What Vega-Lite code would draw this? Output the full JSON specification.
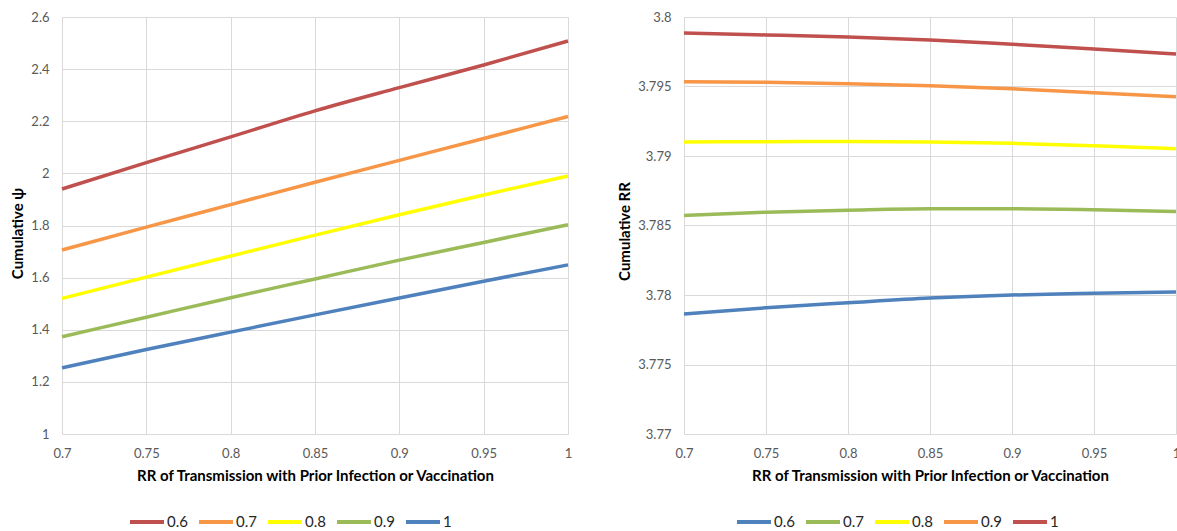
{
  "$schema": "https://vega.github.io/schema/vega-lite/v6.json",
  "background": "white",
  "padding": {"left": 10, "top": 11, "right": 0, "bottom": 0},
  "config": {
    "view": {"stroke": null},
    "font": "Lato",
    "axis": {
      "labelFont": "Lato", "labelFontSize": 13, "labelColor": "#595959", "labelFlush": false,
      "titleFont": "Lato", "titleFontSize": 15, "titleFontWeight": "bold", "titleColor": "#000000",
      "gridColor": "#d9d9d9", "gridWidth": 1, "ticks": false, "domain": false, "labelPadding": 13
    },
    "legend": {
      "labelFont": "Lato", "labelFontSize": 15, "labelColor": "#262626"
    }
  },
  "spacing": 116,
  "bounds": "flush",
  "resolve": {"scale": {"color": "independent"}, "legend": {"color": "independent"}},
  "hconcat": [
    {
      "width": 506, "height": 417,
      "data": {"values": [
        {"sL": "0.6", "x": 0.7, "y": 1.940}, {"sL": "0.6", "x": 0.75, "y": 2.041}, {"sL": "0.6", "x": 0.8, "y": 2.140}, {"sL": "0.6", "x": 0.85, "y": 2.240}, {"sL": "0.6", "x": 0.9, "y": 2.329}, {"sL": "0.6", "x": 0.95, "y": 2.416}, {"sL": "0.6", "x": 1.0, "y": 2.508},
        {"sL": "0.7", "x": 0.7, "y": 1.706}, {"sL": "0.7", "x": 0.75, "y": 1.794}, {"sL": "0.7", "x": 0.8, "y": 1.880}, {"sL": "0.7", "x": 0.85, "y": 1.966}, {"sL": "0.7", "x": 0.9, "y": 2.050}, {"sL": "0.7", "x": 0.95, "y": 2.134}, {"sL": "0.7", "x": 1.0, "y": 2.218},
        {"sL": "0.8", "x": 0.7, "y": 1.520}, {"sL": "0.8", "x": 0.75, "y": 1.602}, {"sL": "0.8", "x": 0.8, "y": 1.683}, {"sL": "0.8", "x": 0.85, "y": 1.763}, {"sL": "0.8", "x": 0.9, "y": 1.841}, {"sL": "0.8", "x": 0.95, "y": 1.917}, {"sL": "0.8", "x": 1.0, "y": 1.990},
        {"sL": "0.9", "x": 0.7, "y": 1.373}, {"sL": "0.9", "x": 0.75, "y": 1.448}, {"sL": "0.9", "x": 0.8, "y": 1.523}, {"sL": "0.9", "x": 0.85, "y": 1.595}, {"sL": "0.9", "x": 0.9, "y": 1.667}, {"sL": "0.9", "x": 0.95, "y": 1.735}, {"sL": "0.9", "x": 1.0, "y": 1.803},
        {"sL": "1", "x": 0.7, "y": 1.254}, {"sL": "1", "x": 0.75, "y": 1.324}, {"sL": "1", "x": 0.8, "y": 1.391}, {"sL": "1", "x": 0.85, "y": 1.457}, {"sL": "1", "x": 0.9, "y": 1.522}, {"sL": "1", "x": 0.95, "y": 1.586}, {"sL": "1", "x": 1.0, "y": 1.649}
      ]},
      "mark": {"type": "line", "strokeWidth": 3.5, "interpolate": "monotone"},
      "encoding": {
        "x": {"field": "x", "type": "quantitative",
          "scale": {"domain": [0.7, 1], "nice": false, "zero": false},
          "axis": {"values": [0.7, 0.75, 0.8, 0.85, 0.9, 0.95, 1], "format": "~g",
            "title": "RR of Transmission with Prior Infection or Vaccination", "titleY": 41, "titleBaseline": "middle"}},
        "y": {"field": "y", "type": "quantitative",
          "scale": {"domain": [1, 2.6], "nice": false, "zero": false},
          "axis": {"values": [1, 1.2, 1.4, 1.6, 1.8, 2, 2.2, 2.4, 2.6], "format": "~g",
            "title": "Cumulative ψ", "titleX": -45, "titleY": 216, "titleAngle": -90, "titleBaseline": "middle", "titleAlign": "center"}},
        "color": {"field": "sL", "type": "nominal",
          "scale": {"domain": ["0.6", "0.7", "0.8", "0.9", "1"], "range": ["#C0504D", "#F79646", "#FFFF00", "#9BBB59", "#4F81BD"]},
          "legend": {"title": null, "orient": "none", "direction": "horizontal", "legendX": 66, "legendY": 486,
            "symbolType": "stroke", "symbolSize": 1156, "symbolStrokeWidth": 4, "columnPadding": 3, "labelOffset": 1}}
      }
    },
    {
      "width": 492, "height": 417,
      "data": {"values": [
        {"sR": "0.6", "x": 0.7, "y": 3.77863}, {"sR": "0.6", "x": 0.75, "y": 3.77908}, {"sR": "0.6", "x": 0.8, "y": 3.77944}, {"sR": "0.6", "x": 0.85, "y": 3.77978}, {"sR": "0.6", "x": 0.9, "y": 3.78000}, {"sR": "0.6", "x": 0.95, "y": 3.78012}, {"sR": "0.6", "x": 1.0, "y": 3.78022},
        {"sR": "0.7", "x": 0.7, "y": 3.78572}, {"sR": "0.7", "x": 0.75, "y": 3.78596}, {"sR": "0.7", "x": 0.8, "y": 3.78610}, {"sR": "0.7", "x": 0.85, "y": 3.78620}, {"sR": "0.7", "x": 0.9, "y": 3.78620}, {"sR": "0.7", "x": 0.95, "y": 3.78613}, {"sR": "0.7", "x": 1.0, "y": 3.78601},
        {"sR": "0.8", "x": 0.7, "y": 3.79101}, {"sR": "0.8", "x": 0.75, "y": 3.79103}, {"sR": "0.8", "x": 0.8, "y": 3.79104}, {"sR": "0.8", "x": 0.85, "y": 3.79101}, {"sR": "0.8", "x": 0.9, "y": 3.79091}, {"sR": "0.8", "x": 0.95, "y": 3.79074}, {"sR": "0.8", "x": 1.0, "y": 3.79053},
        {"sR": "0.9", "x": 0.7, "y": 3.79535}, {"sR": "0.9", "x": 0.75, "y": 3.79530}, {"sR": "0.9", "x": 0.8, "y": 3.79520}, {"sR": "0.9", "x": 0.85, "y": 3.79505}, {"sR": "0.9", "x": 0.9, "y": 3.79484}, {"sR": "0.9", "x": 0.95, "y": 3.79455}, {"sR": "0.9", "x": 1.0, "y": 3.79427},
        {"sR": "1", "x": 0.7, "y": 3.79885}, {"sR": "1", "x": 0.75, "y": 3.79871}, {"sR": "1", "x": 0.8, "y": 3.79856}, {"sR": "1", "x": 0.85, "y": 3.79835}, {"sR": "1", "x": 0.9, "y": 3.79804}, {"sR": "1", "x": 0.95, "y": 3.79770}, {"sR": "1", "x": 1.0, "y": 3.79734}
      ]},
      "mark": {"type": "line", "strokeWidth": 3.5, "interpolate": "monotone"},
      "encoding": {
        "x": {"field": "x", "type": "quantitative",
          "scale": {"domain": [0.7, 1], "nice": false, "zero": false},
          "axis": {"values": [0.7, 0.75, 0.8, 0.85, 0.9, 0.95, 1], "format": "~g",
            "title": "RR of Transmission with Prior Infection or Vaccination", "titleY": 41, "titleBaseline": "middle"}},
        "y": {"field": "y", "type": "quantitative",
          "scale": {"domain": [3.77, 3.8], "nice": false, "zero": false},
          "axis": {"values": [3.77, 3.775, 3.78, 3.785, 3.79, 3.795, 3.8], "format": "~g",
            "title": "Cumulative RR", "titleX": -60, "titleY": 214, "titleAngle": -90, "titleBaseline": "middle", "titleAlign": "center"}},
        "color": {"field": "sR", "type": "nominal",
          "scale": {"domain": ["0.6", "0.7", "0.8", "0.9", "1"], "range": ["#4F81BD", "#9BBB59", "#FFFF00", "#F79646", "#C0504D"]},
          "legend": {"title": null, "orient": "none", "direction": "horizontal", "legendX": 51, "legendY": 486,
            "symbolType": "stroke", "symbolSize": 1156, "symbolStrokeWidth": 4, "columnPadding": 3, "labelOffset": 1}}
      }
    }
  ]
}
